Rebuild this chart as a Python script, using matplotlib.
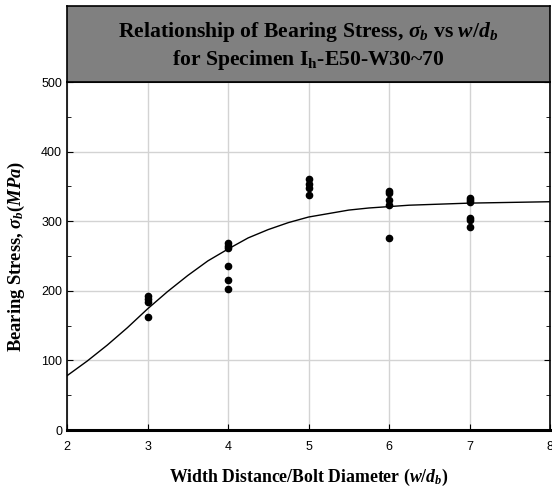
import matplotlib.pyplot as plt
from matplotlib.ticker import MultipleLocator

# measured bearing stress (MPa) grouped by w/d_b
x3 = [3, 3, 3, 3]
y3 = [192, 188, 184, 162]
x4 = [4, 4, 4, 4, 4, 4]
y4 = [268, 265, 262, 236, 216, 203]
x5 = [5, 5, 5, 5]
y5 = [360, 354, 348, 337]
x6 = [6, 6, 6, 6, 6]
y6 = [343, 340, 330, 323, 276]
x7 = [7, 7, 7, 7, 7, 7]
y7 = [333, 330, 327, 305, 302, 291]

# trend curve
curve_x = [2, 2.25, 2.5, 2.75, 3, 3.25, 3.5, 3.75, 4, 4.25, 4.5, 4.75, 5,
           5.25, 5.5, 5.75, 6, 6.25, 6.5, 7, 7.5, 8]
curve_y = [78, 99, 122, 147, 174, 199, 222, 243, 260, 276, 288, 298, 306,
           311, 316, 319, 321, 323, 324, 326, 327, 328]

title_lines = [r'Relationship of Bearing Stress, $\sigma_b$ vs $w/d_b$',
               r'for Specimen I$_\mathregular{h}$-E50-W30~70']

plt.rcParams['mathtext.fontset'] = 'custom'
plt.rcParams['mathtext.it'] = 'Liberation Serif:italic:bold'
plt.rcParams['mathtext.rm'] = 'Liberation Serif:bold'
plt.rcParams['mathtext.bf'] = 'Liberation Serif:bold'

fig = plt.figure(figsize=(5.52, 4.92), dpi=100)
ax = fig.add_axes([0.1214, 0.126, 0.875, 0.7073])

ax.grid(True, color='#d3d3d3', linewidth=1.0)
ax.set_axisbelow(True)

for xs, ys in [(x3, y3), (x4, y4), (x5, y5), (x6, y6), (x7, y7)]:
    ax.plot(xs, ys, 'o', color='black', markersize=4.5, zorder=3)
ax.plot(curve_x, curve_y, color='black', linewidth=1.0, zorder=3)

ax.set_xlim(2, 8)
ax.set_ylim(0, 500)
ax.xaxis.set_major_locator(MultipleLocator(1))
ax.yaxis.set_major_locator(MultipleLocator(100))
ax.yaxis.set_minor_locator(MultipleLocator(50))
ax.tick_params(axis='both', direction='in', labelsize=9, length=4,
               right=True, top=False)
ax.tick_params(axis='x', pad=8)
ax.tick_params(axis='y', which='minor', direction='in', length=3, right=True)
for lab in ax.get_xticklabels() + ax.get_yticklabels():
    lab.set_fontfamily('Liberation Sans')
for s in ax.spines.values():
    s.set_linewidth(1.2)
ax.spines['bottom'].set_linewidth(2.2)

ax.set_xlabel(r'Width Distance/Bolt Diameter ($w/d_b$)', fontsize=12.8,
              fontweight='bold', family='Liberation Serif', labelpad=10)
ax.set_ylabel(r'Bearing Stress, $\sigma_b$($MPa$)', fontsize=13.3,
              fontweight='bold', family='Liberation Serif', labelpad=10)

# grey title box above the plot
tax = fig.add_axes([0.1214, 0.8333, 0.875, 0.1545])
tax.set_facecolor('#808080')
tax.set_xticks([])
tax.set_yticks([])
for s in tax.spines.values():
    s.set_linewidth(1.2)
tax.text(0.5, 0.66, title_lines[0], ha='center', va='center', fontsize=15.6,
         fontweight='bold', family='Liberation Serif', transform=tax.transAxes)
tax.text(0.5, 0.29, title_lines[1], ha='center', va='center', fontsize=15.6,
         fontweight='bold', family='Liberation Serif', transform=tax.transAxes)

fig.savefig('out.png', dpi=100)
